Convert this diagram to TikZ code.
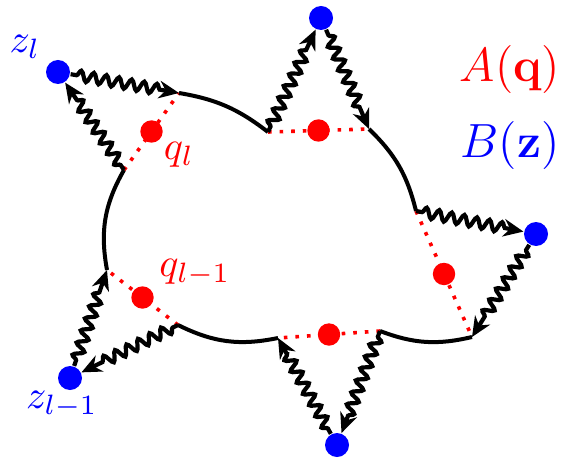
\documentclass[tikz,border=0pt]{standalone}
\usetikzlibrary{decorations.pathmorphing,arrows.meta,calc}
\begin{document}
\begin{tikzpicture}[x=0.25pt,y=-0.25pt,
  bdot/.style={circle,fill=blue,inner sep=0pt,minimum size=6pt},
  rdot/.style={circle,fill=red,inner sep=0pt,minimum size=5.6pt},
  arcline/.style={line width=1pt},
  wig/.style={line width=1.05pt,decorate,decoration={snake,amplitude=1.3pt,segment length=3.2pt,pre length=1.5pt,post length=4.5pt},-{Stealth[length=5pt,width=4.4pt]}},
  dots/.style={red,dotted,line width=0.9pt},
  lab/.style={inner sep=0pt}]
\useasboundingbox (0,0) rectangle (566,459);
% gap end points (clockwise: a -> blue -> b)
\coordinate (a1) at (124,170);
\coordinate (b1) at (179,93);
\coordinate (a2) at (268,132);
\coordinate (b2) at (369,129);
\coordinate (a3) at (416,211);
\coordinate (b3) at (472,337);
\coordinate (a4) at (380,331);
\coordinate (b4) at (278,338);
\coordinate (a5) at (178,325);
\coordinate (b5) at (107,270);
% dotted chords
\draw[dots] (a1) -- (b1);
\draw[dots] (a2) -- (b2);
\draw[dots] (a3) -- (b3);
\draw[dots] (a4) -- (b4);
\draw[dots] (a5) -- (b5);
% red dots
\node[rdot] (r1) at ($(a1)!0.5!(b1)$) {};
\node[rdot] (r2) at ($(a2)!0.5!(b2)$) {};
\node[rdot] (r3) at ($(a3)!0.5!(b3)$) {};
\node[rdot] (r4) at ($(a4)!0.5!(b4)$) {};
\node[rdot] (r5) at ($(a5)!0.5!(b5)$) {};
% arcs
\draw[arcline] (b1) to[bend left=14] (a2);
\draw[arcline] (b2) to[bend left=16] (a3);
\draw[arcline] (b3) to[bend left=17] (a4);
\draw[arcline] (b4) to[bend left=19] (a5);
\draw[arcline] (b5) to[bend left=20] (a1);
% blue dots
\node[bdot] (z1) at (58,72) {};
\node[bdot] (z2) at (321,18) {};
\node[bdot] (z3) at (536,234) {};
\node[bdot] (z4) at (337,445) {};
\node[bdot] (z5) at (70,378) {};
% wiggly propagators
\draw[wig] (a1) -- (z1);
\draw[wig] (z1) -- (b1);
\draw[wig] (a2) -- (z2);
\draw[wig] (z2) -- (b2);
\draw[wig] (a3) -- (z3);
\draw[wig] (z3) -- (b3);
\draw[wig] (a4) -- (z4);
\draw[wig] (z4) -- (b4);
\draw[wig] (a5) -- (z5);
\draw[wig] (z5) -- (b5);
% labels
\node[lab,red] (ql) at (179,155) {$q_l$};
\node[lab,red] (ql1) at (195,273) {$q_{l-1}$};
\node[lab,blue] (zl) at (25,47) {$z_l$};
\node[lab,blue] (zl1) at (62,405) {$z_{l-1}$};
\node[lab,red,font=\fontsize{11.5}{14}\selectfont] (Aq) at (510,70) {$A(\mathbf{q})$};
\node[lab,blue,font=\fontsize{11.5}{14}\selectfont] (Bz) at (510,145) {$B(\mathbf{z})$};
\end{tikzpicture}
\end{document}
